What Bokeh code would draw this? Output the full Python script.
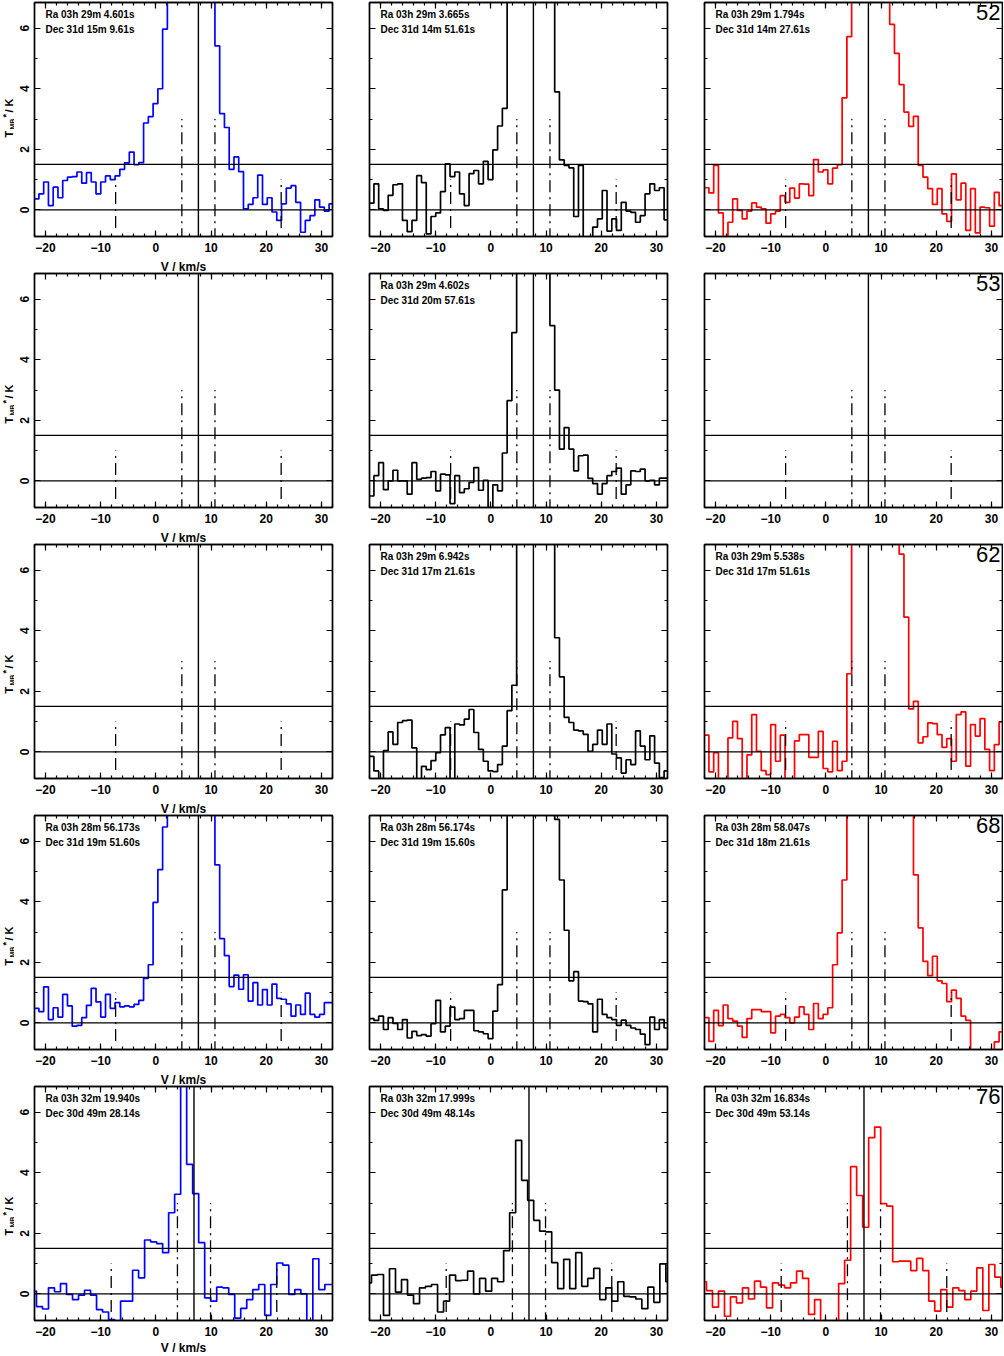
import numpy as np
from math import pi
from bokeh.plotting import figure
from bokeh.layouts import column, row
from bokeh.models import Range1d, Span, Label, LinearAxis, SingleIntervalTicker
from bokeh.embed import file_html
from bokeh.resources import INLINE

# ---------------- data ----------------
V_MIN, V_MAX = -22.0, 32.0          # km/s
T_MIN, T_MAX = -0.88, 6.85          # K

# channel grids: (first channel edge km/s, channel width km/s)
GRID_ROWS_1_4 = (-22.06, 0.862)
GRID_ROW_5 = (-22.73, 1.0886)

R1C1 = [0.36, 0.53, 0.92, 0.14, 0.75, 0.40, 0.97, 1.08, 1.10, 1.25,
        0.88, 1.23, 0.92, 0.53, 0.92, 1.12, 1.00, 1.12, 1.34, 1.55,
        1.91, 1.49, 1.56, 2.87, 3.08, 3.51, 4.00, 5.97,
        8.6, 10.5, 12.4, 13.6, 14.1, 13.8, 12.7, 11.2, 9.6, 7.9,
        5.42, 3.18, 2.72, 1.34, 1.75, 1.26, 0.03, 0.18, 0.40, 1.15,
        0.18, 0.40, -0.07, -0.35, 0.20, 0.72, 0.80, 0.25, -0.74, -0.35,
        -0.19, 0.33, 0.09, -0.04, 0.20]
R1C2 = [0.22, 0.86, 0.03, -0.02, 0.48, 0.83, 0.86, -0.35, -0.72, -0.35,
        1.13, 0.90, -0.79, -0.22, -0.10, 0.60, 1.52, 1.10, 1.25, 0.53,
        0.14, 1.20, 1.30, 0.86, 1.60, 1.00, 1.98, 2.77, 3.35,
        7.4, 9.1, 10.8, 12.0, 12.6, 12.3, 11.2, 9.7, 8.1, 7.0,
        3.90, 1.65, 1.47, 1.39, -0.22, 1.47, -1.30, -1.20, -0.57, -0.30,
        0.64, -0.70, -0.30, -0.68, 0.25, -0.04, -0.08, -0.41, -0.19, 0.53,
        0.86, 0.64, 0.73, -0.33]
R1C3 = [0.73, 0.56, 1.47, -0.10, -1.00, -0.41, 0.36, -0.02, -0.30, -0.04,
        0.23, 0.09, 0.03, -0.44, -0.13, -0.04, 0.47, 0.25, 0.72, 0.39,
        0.86, 0.85, 0.47, 1.66, 1.25, 1.32, 0.86, 1.38, 1.49, 3.70, 5.72,
        8.8, 11.6, 13.9, 14.8, 14.2, 12.6, 10.4, 8.1,
        6.13, 5.17, 4.14, 3.23, 2.76, 3.09, 1.47, 1.08, 0.70, 0.18,
        0.70, -0.13, -0.38, 1.19, 0.33, 0.88, -0.68, 0.70, -0.76, 0.09,
        0.07, -0.54, 0.58, 0.14]
R2C2 = [-0.50, 0.17, 0.60, -0.29, 0.00, 0.35, 0.00, 0.00, -0.44, 0.60,
        0.05, 0.09, 0.11, 0.31, -0.33, 0.22, 0.20, -0.75, 0.17, -0.39,
        -0.26, -0.05, 0.44, -0.31, 0.02, -0.88, -0.13, -0.33, 0.92, 2.65, 4.90,
        7.6, 9.8, 11.5, 12.1, 11.4, 9.6, 7.5,
        5.13, 3.00, 1.05, 1.76, 1.05, 0.33, 0.83, 0.85, 0.08, -0.09,
        -0.44, -0.09, 0.17, 0.31, 0.42, -0.44, -0.13, 0.33, 0.31, 0.39,
        0.00, 0.02, -0.13, 0.09, 0.09]
R3C2 = [-0.15, -0.63, -1.00, 0.04, 0.66, 0.25, 0.97, 1.03, 1.05, 0.13,
        -1.20, -0.48, -0.59, -0.29, -0.03, 0.56, 0.80, -0.90, 0.92, 0.89,
        1.08, 1.40, 0.64, 0.08, -0.31, -0.63, -0.65, -0.42, 0.19, 1.36, 2.20,
        7.8, 10.2, 12.5, 13.6, 13.1, 11.8, 9.9, 7.9,
        3.77, 2.48, 1.14, 0.97, 0.72, 0.69, 0.58, 0.02, 0.25, 0.72,
        0.25, 0.92, -0.07, -0.20, -0.70, -0.26, -0.42, 0.69, 0.19, -0.26,
        0.53, -0.37, -0.85, -0.63]
R3C3 = [0.55, -0.66, -0.03, -1.00, -1.00, 0.46, 1.01, 0.44, -1.00, -0.10,
        1.23, 0.02, -0.62, -0.75, 0.90, -0.31, 0.55, -1.00, -1.00, 0.36,
        0.57, 0.57, -0.18, -0.18, 0.68, -0.55, -0.66, 0.35, -0.62, -0.31, 2.58,
        8.5, 11.0, 12.8, 13.9, 14.3, 14.0, 13.1, 11.5, 9.4, 7.6,
        6.53, 4.45, 1.42, 1.67, 0.30, 0.50, 0.96, 0.93, 0.57, 0.15,
        0.44, -0.31, 1.23, 1.32, -0.47, 0.90, 0.52, 1.10, 0.08, -0.62,
        0.24, 0.99]
R4C1 = [0.48, 0.37, 1.19, 0.11, 0.50, 0.19, 0.94, 0.56, -0.11, -0.08,
        0.17, 0.58, 1.14, 0.69, 0.19, 0.94, 0.48, 0.67, 0.53, 0.56,
        0.53, 0.61, 0.74, 1.47, 1.92, 3.98, 5.06, 6.47,
        8.4, 10.6, 12.3, 13.4, 13.8, 13.2, 11.9, 10.1, 8.3, 7.0,
        5.22, 2.78, 2.22, 1.20, 1.58, 1.11, 1.59, 0.72, 1.33, 0.59,
        1.10, 0.59, 1.28, 0.81, 0.78, 0.63, 0.22, 0.59, 0.28, 0.98,
        0.28, 0.19, 0.28, 0.67, 0.67]
R4C2 = [0.14, 0.08, 0.22, -0.22, 0.17, -0.02, -0.22, 0.11, -0.50, -0.28,
        -0.42, -0.39, -0.44, -0.03, 0.74, -0.30, -0.11, 0.52, 0.11, 0.14,
        0.41, 0.41, -0.26, -0.30, -0.36, -0.52, 0.39, 1.26, 4.39,
        7.6, 9.8, 11.7, 12.9, 13.3, 12.8, 11.6, 10.0, 8.5, 7.3,
        6.72, 4.72, 3.06, 1.39, 1.69, 0.72, 0.70, 0.63, -0.30, 0.78,
        0.28, 0.17, 0.11, -0.08, 0.09, -0.08, -0.17, -0.22, -0.37, -0.72,
        0.19, -0.22, 0.11, -0.17]
R4C3 = [0.17, -0.61, 0.41, -0.09, 0.59, 0.14, 0.06, -0.11, -0.48, 0.14,
        0.44, 0.44, 0.37, 0.37, -0.33, 0.22, 0.28, 0.17, 0.00, 0.19,
        0.53, 0.28, -0.22, 0.64, 0.14, 0.28, 0.50, 1.92, 2.97, 4.72,
        7.2, 9.0, 10.6, 11.9, 12.8, 13.2, 13.0, 12.4, 11.3, 10.1, 8.9, 7.8, 7.1, 7.0,
        4.89, 3.14, 2.03, 1.56, 2.20, 1.39, 1.30, 0.70, 1.08, 0.81,
        0.22, 0.08, -1.20, -1.30, -1.30, -1.20, -1.10, -0.63, -0.30]
R5C1 = [0.09, -0.42, -0.50, 0.20, 0.07, 0.34, -0.02, -0.19, -0.04, 0.12,
        -0.04, -0.52, -0.60, -0.85, -1.30, -0.24, -0.24, 0.78, 0.53, 1.78,
        1.72, 1.66, 1.36, 2.68, 3.29, 9.00, 4.28, 3.31, 1.69, -0.13,
        -0.24, 0.22, 0.20, -0.02, -0.80, -0.48, -0.19, 0.14, 0.31, -0.71,
        0.31, 1.02, 0.95, -0.02, 0.14, 0.00, -1.30, 1.16, 0.14, 0.31, 0.31]
R5C2 = [0.36, 0.62, 0.64, -0.71, 0.83, 0.06, 0.47, -0.04, -0.32, 0.20,
        0.25, 0.31, -0.60, -0.24, 0.62, 0.44, 0.45, 0.75, 0.00, 0.51,
        0.09, 0.51, 0.40, 1.43, 2.68, 5.07, 3.75, 3.09, 2.43, 2.07,
        2.05, 1.03, 0.17, 1.14, 0.17, 1.36, 0.25, 0.51, 0.84, -0.19,
        0.20, -0.24, 0.40, -0.08, -0.10, -0.17, -0.49, 0.22, -0.28, 0.99, 0.40]
R5C3 = [0.40, 0.11, -0.44, 0.09, -0.74, -0.10, -0.30, 0.20, -0.17, 0.42,
        0.22, -0.46, 0.36, 0.29, 0.20, 0.36, 0.75, 0.51, -0.68, -0.19,
        -1.20, -1.20, -1.20, 0.34, 1.11, 4.20, 3.25, 2.20, 5.16, 5.51,
        2.98, 2.90, 1.06, 1.08, 1.08, 0.77, 1.17, 0.77, -0.24, -0.57,
        0.14, -0.44, 0.20, 0.11, -0.19, 0.09, 0.86, -0.55, 0.97, 0.55, 0.22]

SPECTRA = [[R1C1, R1C2, R1C3],
           [None, R2C2, None],
           [None, R3C2, R3C3],
           [R4C1, R4C2, R4C3],
           [R5C1, R5C2, R5C3]]
GRIDS = [GRID_ROWS_1_4, GRID_ROWS_1_4, GRID_ROWS_1_4, GRID_ROWS_1_4, GRID_ROW_5]

COORDS = [[("Ra 03h 29m  4.601s", "Dec 31d 15m  9.61s"),
           ("Ra 03h 29m  3.665s", "Dec 31d 14m 51.61s"),
           ("Ra 03h 29m  1.794s", "Dec 31d 14m 27.61s")],
          [None, ("Ra 03h 29m  4.602s", "Dec 31d 20m 57.61s"), None],
          [None, ("Ra 03h 29m  6.942s", "Dec 31d 17m 21.61s"),
           ("Ra 03h 29m  5.538s", "Dec 31d 17m 51.61s")],
          [("Ra 03h 28m 56.173s", "Dec 31d 19m 51.60s"),
           ("Ra 03h 28m 56.174s", "Dec 31d 19m 15.60s"),
           ("Ra 03h 28m 58.047s", "Dec 31d 18m 21.61s")],
          [("Ra 03h 32m 19.940s", "Dec 30d 49m 28.14s"),
           ("Ra 03h 32m 17.999s", "Dec 30d 49m 48.14s"),
           ("Ra 03h 32m 16.834s", "Dec 30d 49m 53.14s")]]
MAP_IDS = ["52", "53", "62", "68", "76"]
VSYS = [7.7, 7.7, 7.7, 7.7, 6.9]            # km/s, solid vertical line
HF_OFFSETS = [-15.0, -3.0, 3.0, 15.0]       # km/s, dash-dot markers
HF_TOP = [1.0, 3.0, 3.0, 1.0]
HF_BOTTOM = [-0.6, -1.0, -1.0, -0.6]
LEVELS = [0.0, 1.5]
COLORS = ["#0000ff", "#000000", "#ff0000"]
X_LABEL = "V / km/s"
Y_LABEL_PARTS = ["T", "MB", "*", "/ K"]

# ---------------- styling ----------------
FONT = "Liberation Sans"
FW, FH = 298, 234
PX = FW / (V_MAX - V_MIN)
PY = FH / (T_MAX - T_MIN)
YT_W = 14                      # width of the strip holding the y title
LEFT = [20, 35, 35]
RIGHT = [2, 2, 1]
TOPS = [2, 17, 16, 17, 16]     # rows 2-5 carry the previous row's x title on top
BOTTOMS = [20, 20, 20, 20, 36]


def add_axis(p, loc, labels, title=None, title_standoff=0):
    if loc in ("below", "above"):
        tk = SingleIntervalTicker(interval=10, num_minor_ticks=5)
    else:
        tk = SingleIntervalTicker(interval=2, num_minor_ticks=2)
    ax = LinearAxis(ticker=tk)
    ax.axis_line_color = "black"
    ax.axis_line_width = 1.4
    ax.major_tick_in = 6
    ax.major_tick_out = 0
    ax.minor_tick_in = 3
    ax.minor_tick_out = 0
    ax.major_tick_line_width = 1.2
    ax.minor_tick_line_width = 1.2
    ax.major_tick_line_color = "black"
    ax.minor_tick_line_color = "black"
    if labels:
        ax.major_label_text_font = FONT
        ax.major_label_text_font_size = "12px"
        ax.major_label_text_font_style = "bold"
        ax.major_label_text_color = "black"
        ax.major_label_standoff = 6 if loc == "below" else 5
        if loc == "left":
            ax.major_label_orientation = "vertical"
    else:
        ax.major_label_text_color = None
        ax.major_label_text_alpha = 0
        ax.major_label_text_font_size = "1px"
        ax.major_label_standoff = 0
    if title:
        ax.axis_label = title
        ax.axis_label_text_font = FONT
        ax.axis_label_text_font_size = "12px"
        ax.axis_label_text_font_style = "bold"
        ax.axis_label_text_color = "black"
        ax.axis_label_standoff = title_standoff
    p.add_layout(ax, loc)


def make_ytitle(r):
    # narrow strip left of the first column carrying  T_MB* / K
    h = TOPS[r] + FH + BOTTOMS[r]
    q = figure(frame_width=YT_W, frame_height=h,
               x_range=Range1d(0, YT_W), y_range=Range1d(0, h),
               x_axis_type=None, y_axis_type=None,
               output_backend="svg", toolbar_location=None,
               min_border_left=0, min_border_right=0,
               min_border_top=0, min_border_bottom=0)
    q.outline_line_color = None
    q.background_fill_color = "white"
    q.border_fill_color = "white"
    top = h - TOPS[r]
    # (x centre px, start px below frame top, font size)
    placement = [(8.5, 133, "11px"), (11.5, 125, "7px"),
                 (5.5, 113, "9px"), (8.5, 108, "11px")]
    for txt, (xc, dy, fs) in zip(Y_LABEL_PARTS, placement):
        q.add_layout(Label(x=xc, y=top - dy, text=txt, angle=pi / 2,
                           text_font=FONT, text_font_size=fs,
                           text_font_style="bold", text_color="black",
                           text_align="left", text_baseline="middle"))
    return q


def make_panel(r, c):
    p = figure(frame_width=FW, frame_height=FH,
               x_range=Range1d(V_MIN, V_MAX), y_range=Range1d(T_MIN, T_MAX),
               x_axis_type=None, y_axis_type=None,
               output_backend="svg", toolbar_location=None,
               min_border_left=LEFT[c], min_border_right=RIGHT[c],
               min_border_top=TOPS[r], min_border_bottom=BOTTOMS[r])
    p.outline_line_color = "black"
    p.outline_line_width = 1.4
    p.background_fill_color = "white"
    p.border_fill_color = "white"

    first_col = c == 0
    add_axis(p, "below", True, X_LABEL if (first_col and r == 4) else None, 2)
    add_axis(p, "left", first_col)
    add_axis(p, "above", False, X_LABEL if (first_col and r > 0) else None, 0)
    add_axis(p, "right", False)

    vals = SPECTRA[r][c]
    if vals is not None:
        v0, dv = GRIDS[r]
        edges = v0 + dv * np.arange(len(vals) + 1)
        ys = list(vals) + [vals[-1]]
        p.step(edges, ys, mode="after", line_color=COLORS[c], line_width=1.7)

    for lev in LEVELS:
        p.add_layout(Span(location=lev, dimension="width",
                          line_color="black", line_width=1.3))
    p.add_layout(Span(location=VSYS[r], dimension="height",
                      line_color="black", line_width=1.4))
    hx = [VSYS[r] + o for o in HF_OFFSETS]
    p.segment(x0=hx, y0=HF_BOTTOM, x1=hx, y1=HF_TOP, line_color="black",
              line_width=1.3, line_dash="12 5 2 5")

    if COORDS[r][c] is not None:
        ra, dec = COORDS[r][c]
        for txt, dy in ((ra, 12), (dec, 27)):
            p.add_layout(Label(x=V_MIN + 11 / PX, y=T_MAX - dy / PY, text=txt,
                               text_font=FONT, text_font_size="10px",
                               text_font_style="bold", text_color="black",
                               text_baseline="middle", text_align="left"))
    if c == 2:
        p.add_layout(Label(x=V_MAX - 2 / PX, y=T_MAX - 2 / PY, text=MAP_IDS[r],
                           text_font=FONT, text_font_size="22px",
                           text_color="black", text_align="right",
                           text_baseline="top"))
    return p


rows = []
for r in range(5):
    rows.append(row(make_ytitle(r), *[make_panel(r, c) for c in range(3)]))
layout = column(*rows)

open("out.html", "w").write(file_html(layout, INLINE, "spectra"))
